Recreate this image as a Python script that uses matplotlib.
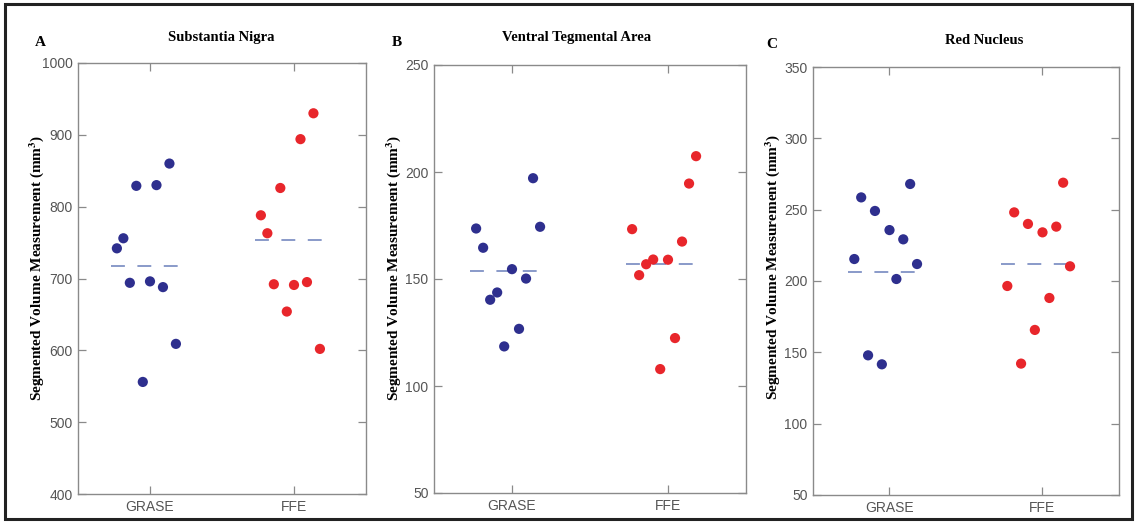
import matplotlib

matplotlib.use("Agg")
import matplotlib.pyplot as plt
from matplotlib import font_manager
from matplotlib.patches import Rectangle

# category positions and horizontal spread of the dots (same pattern in every panel)
GROUPS = ["GRASE", "FFE"]
SPREAD = [-0.23, -0.185, -0.14, -0.095, -0.05, 0.0, 0.045, 0.09, 0.135, 0.18]

# A - Substantia Nigra
SN_GRASE = [742, 756, 694, 829, 556, 696, 830, 688, 860, 609]
SN_FFE = [788, 763, 692, 826, 654, 691, 894, 695, 930, 602]
SN_MEAN = [718, 754]

# B - Ventral Tegmental Area
VTA_GRASE = [173.6, 164.6, 140.3, 143.7, 118.5, 154.6, 126.7, 150.2, 197.1, 174.4]
VTA_FFE = [173.3, 151.8, 156.9, 159.1, 107.9, 159.0, 122.4, 167.5, 194.6, 207.4]
VTA_MEAN = [153.7, 156.9]

# C - Red Nucleus
RN_GRASE = [215.4, 258.6, 147.9, 249.1, 141.6, 235.7, 201.4, 229.2, 268.0, 211.9]
RN_FFE = [196.5, 248.1, 142.1, 240.0, 165.7, 234.1, 188.1, 238.1, 268.9, 210.3]
RN_MEAN = [206.5, 211.7]

SN_TICKS = [400, 500, 600, 700, 800, 900, 1000]
VTA_TICKS = [50, 100, 150, 200, 250]
RN_TICKS = [50, 100, 150, 200, 250, 300, 350]

BLUE = "#2E2F8E"
RED = "#E8262B"
MEAN_C = "#7689C0"
AXIS_C = "#8a8a8a"
TEXT_C = "#555555"

names = {f.name for f in font_manager.fontManager.ttflist}
TICK_FONT = "Liberation Sans Narrow" if "Liberation Sans Narrow" in names else "Liberation Sans"
SERIF = "Liberation Serif"

plt.rcParams["mathtext.fontset"] = "stix"
plt.rcParams["lines.scale_dashes"] = False

W, H = 1136, 523
fig = plt.figure(figsize=(W / 100, H / 100), dpi=100)


def _px(x0, y0, x1, y1):
    # pixel box (top-left origin) -> figure fraction rect
    return [x0 / W, 1 - y1 / H, (x1 - x0) / W, (y1 - y0) / H]


def panel(rect, grase, ffe, means, ticks, letter, letter_xy, title, title_xy, ylab_xy):
    ax = fig.add_axes(_px(*rect))
    for i, (vals, col) in enumerate([(grase, BLUE), (ffe, RED)]):
        xs = [i + 1 + d for d in SPREAD]
        ax.scatter(xs, vals, s=54, color=col, edgecolors="none", zorder=3)
        ax.plot([i + 1 - 0.27, i + 1 + 0.21], [means[i], means[i]], color=MEAN_C,
                lw=1.2, dashes=(10, 9), solid_capstyle="butt", zorder=2)
    ax.set_xlim(0.5, 2.5)
    ax.set_ylim(ticks[0], ticks[-1])
    ax.set_xticks([1, 2])
    ax.set_xticklabels(GROUPS)
    ax.set_yticks(ticks)
    ax.tick_params(direction="in", length=6, width=0.9, color=AXIS_C, top=True, right=True,
                   labelcolor=TEXT_C, labelsize=10, pad=4)
    for lab in ax.get_xticklabels() + ax.get_yticklabels():
        lab.set_fontfamily(TICK_FONT)
    for sp in ax.spines.values():
        sp.set_color(AXIS_C); sp.set_linewidth(1.0)
    fig.text(letter_xy[0] / W, 1 - letter_xy[1] / H, letter, family=SERIF, weight="bold",
             fontsize=11, ha="center", va="center")
    fig.text(title_xy[0] / W, 1 - title_xy[1] / H, title, family=SERIF, weight="bold",
             fontsize=10.5, ha="center", va="center")
    fig.text(ylab_xy[0] / W, 1 - ylab_xy[1] / H,
             r"Segmented Volume Measurement (mm$^{\mathbf{3}}$)", family=SERIF,
             weight="bold", fontsize=11, rotation=90, ha="center", va="center")
    return ax


panel((78, 63, 366, 494), SN_GRASE, SN_FFE, SN_MEAN, SN_TICKS,
      "A", (40, 43), "Substantia Nigra", (221, 37), (37, 268))
panel((434, 65, 746, 493), VTA_GRASE, VTA_FFE, VTA_MEAN, VTA_TICKS,
      "B", (397, 43), "Ventral Tegmental Area", (577, 37), (394, 268))
panel((813, 67, 1119, 495), RN_GRASE, RN_FFE, RN_MEAN, RN_TICKS,
      "C", (772, 45), "Red Nucleus", (984, 40), (773, 267))

# outer frame around the whole figure
fig.patches.append(Rectangle((5 / W, 4 / H), 1127 / W, 515 / H, transform=fig.transFigure,
                             fill=False, lw=2.2, edgecolor="#222222"))

fig.savefig("out.png", dpi=100)
